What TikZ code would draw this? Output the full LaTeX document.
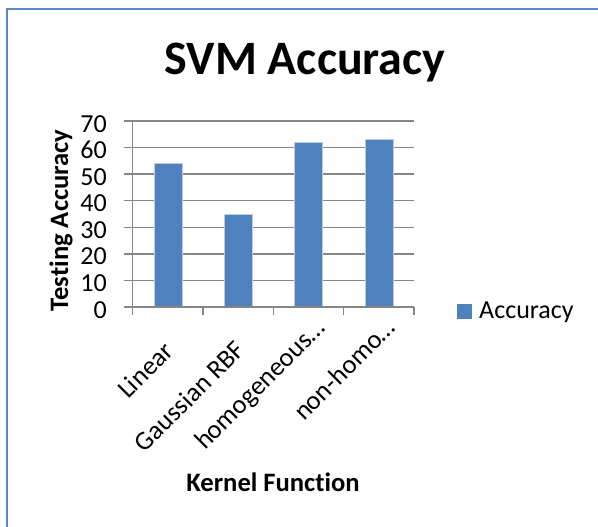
\documentclass[tikz,border=0pt]{standalone}
\usepackage{fontspec}
\setmainfont{Carlito}[Ligatures=CommonOff]
\definecolor{barblue}{HTML}{4F81BD}
\definecolor{baredge}{HTML}{B9CDE5}
\definecolor{framecol}{HTML}{5A8AC6}
\definecolor{gridgray}{HTML}{868686}
\tikzset{
  gridline/.style={draw=gridgray,line width=1.4pt},
  barbox/.style={fill=barblue,draw=baredge,line width=0.8pt},
  ticklab/.style={inner sep=0pt,font=\fontsize{26}{30}\selectfont},
  catlab/.style={inner sep=0pt,rotate=45,anchor=base east,font=\fontsize{26.5}{30}\selectfont},
  boldlab/.style={inner sep=0pt,font=\fontsize{26.6}{30}\selectfont\bfseries},
}
\begin{document}
\begin{tikzpicture}[x=1pt,y=-1pt]
\useasboundingbox (0,0) rectangle (598,527);
% frame
\draw[framecol,line width=2pt] (7,527) -- (7,9) -- (598,9);
% title
\node[inner sep=0pt,anchor=base,font=\fontsize{48}{56}\selectfont\bfseries] (title) at (305,74.3) {SVM Accuracy};
% gridlines and y ticks
\foreach \v in {10,20,...,70}{
  \draw[gridline] (124,{307-\v*2.657}) -- (414,{307-\v*2.657});
}
\foreach \v in {0,10,...,70}{
  \node[ticklab,anchor=east] (y\v) at (107,{309.7-\v*2.657}) {\v};
  \draw[gridline] (124,{307-\v*2.657}) -- (132.7,{307-\v*2.657});
}
% bars
\foreach \i/\v in {0/54,1/35,2/62,3/63}{
  \path[barbox] ({168.3+\i*70.2-14},307) rectangle ({168.3+\i*70.2+14},{307-\v*2.657});
}
% axes
\draw[gridline] (132.7,121) -- (132.7,307);
\draw[gridline] (124,307) -- (414,307);
\foreach \i in {0,1,2,3,4}{
  \draw[gridline] ({132.7+\i*70.3},307) -- ({132.7+\i*70.3},315);
}
% category labels
\node[catlab] (c1) at (175,353) {Linear};
\node[catlab] (c2) at (246.7,351.7) {Gaussian RBF};
\node[catlab] (c3) at (327,329) {homogeneous…};
\node[catlab] (c4) at (397,329) {non-homo…};
% axis titles
\node[boldlab,rotate=90,anchor=base] (ytitle) at (68,220.5) {Testing Accuracy};
\node[boldlab,anchor=base] (xtitle) at (273,491) {Kernel Function};
% legend
\path[fill=barblue] (457,304) rectangle (472,319);
\node[ticklab,anchor=base west] (leg) at (479,318) {Accuracy};
\end{tikzpicture}
\end{document}
